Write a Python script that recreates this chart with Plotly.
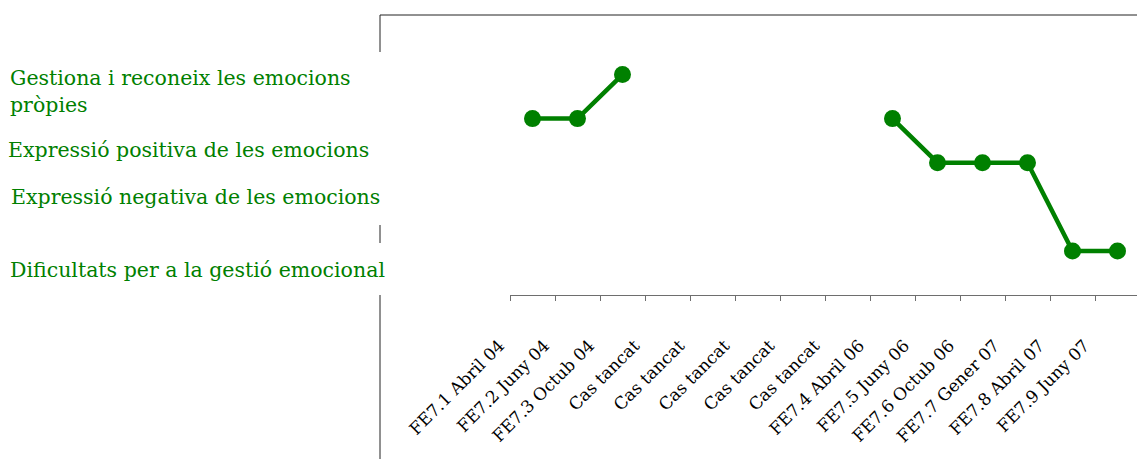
import plotly.graph_objects as go

# ---- data ----
x_labels = ["FE7.1 Abril 04", "FE7.2 Juny 04", "FE7.3 Octub 04",
            "Cas tancat", "Cas tancat", "Cas tancat", "Cas tancat", "Cas tancat",
            "FE7.4 Abril 06", "FE7.5 Juny 06", "FE7.6 Octub 06", "FE7.7 Gener 07",
            "FE7.8 Abril 07", "FE7.9 Juny 07"]
values = [4, 4, 5, None, None, None, None, None, 4, 3, 3, 3, 1, 1]
y_labels = ["Gestiona i reconeix les emocions<br>pròpies",
            "Expressió positiva de les emocions",
            "Expressió negativa de les emocions",
            "Dificultats per a la gestió emocional"]

# page places the figure at (8, 8) (default body margin)
OFF = 8
W, H = 1145 - OFF, 459 - OFF
PX0, PX1 = 510, 1140      # plot area in screen pixels
PY0, PY1 = 15, 295
L, T = PX0 - OFF, PY0 - OFF
PW, PH = PX1 - PX0, PY1 - PY0
R, B = W - L - PW, H - T - PH

def px_x(X):
    return (X - PX0) / PW

def px_y(Y):
    return (PY1 - Y) / PH

GREEN = "#008000"
FONT = "DejaVu Serif"

xs = list(range(len(x_labels)))

fig = go.Figure()
fig.add_trace(go.Scatter(
    x=xs, y=values, mode="lines+markers",
    line=dict(color=GREEN, width=4.5),
    marker=dict(color=GREEN, size=17),
    connectgaps=False, hoverinfo="skip", showlegend=False,
))

fig.update_xaxes(
    range=[-0.5, len(x_labels) - 0.5],
    tickmode="array", tickvals=xs, ticktext=x_labels,
    tickangle=-45, ticks="",
    tickfont=dict(family=FONT, size=17, color="#000000"),
    showline=True, linecolor="#6e6e6e", linewidth=1,
    showgrid=False, zeroline=False,
    ticklabelstandoff=33, ticklabelshift=-33,
    minor=dict(tickmode="array", tickvals=[i - 0.5 for i in range(len(x_labels) + 1)],
               ticks="outside", ticklen=5, tickcolor="#6e6e6e", tickwidth=1,
               showgrid=False),
)
fig.update_yaxes(range=[0, 6.35], visible=False, showgrid=False, zeroline=False)

line_col = "#222222"
shapes = [
    dict(type="line", xref="paper", yref="paper",
         x0=px_x(380), x1=px_x(1140), y0=px_y(15), y1=px_y(15),
         line=dict(color=line_col, width=1)),
]
for y0, y1 in [(15, 52), (225, 243), (295, 459)]:
    shapes.append(dict(type="line", xref="paper", yref="paper",
                       x0=px_x(380), x1=px_x(380), y0=px_y(y0), y1=px_y(y1),
                       line=dict(color=line_col, width=1)))
fig.update_layout(shapes=shapes)

label_pos = [(8, 91), (6, 150), (9, 197), (8, 270)]
for text, (lx, ly) in zip(y_labels, label_pos):
    fig.add_annotation(
        text=text, xref="paper", yref="paper",
        x=px_x(lx), y=px_y(ly), xanchor="left", yanchor="middle",
        align="left", showarrow=False,
        font=dict(family=FONT, size=20.5, color=GREEN),
    )

fig.update_layout(
    width=W, height=H,
    margin=dict(l=L, r=R, t=T, b=B, pad=0),
    paper_bgcolor="white", plot_bgcolor="white",
)

fig.write_html("out.html")
